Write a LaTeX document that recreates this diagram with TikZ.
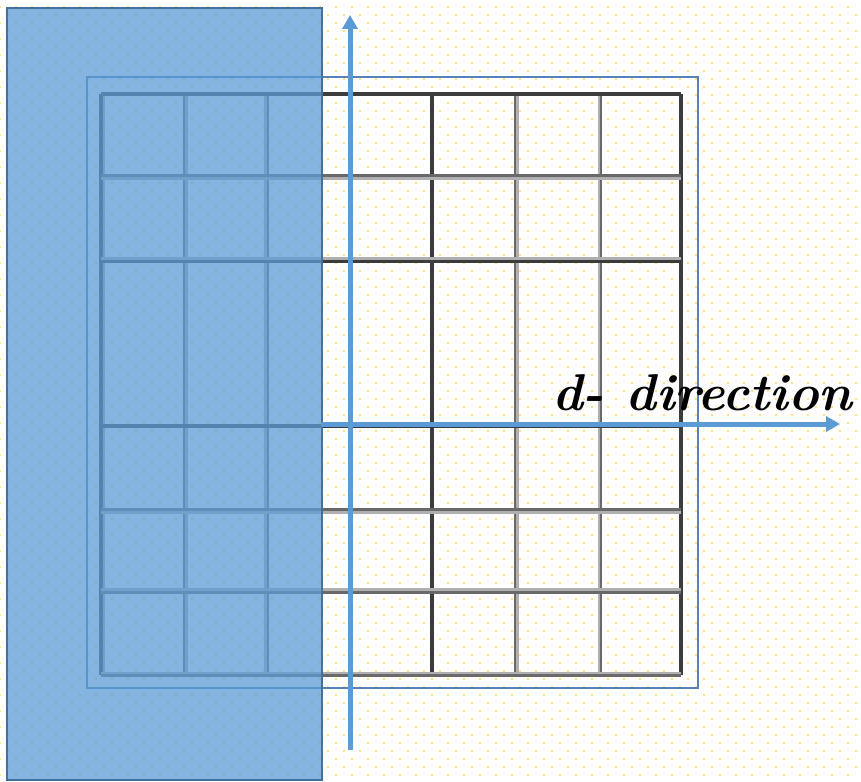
\documentclass[tikz,border=0pt]{standalone}
\usepackage{graphicx}
\usetikzlibrary{arrows.meta}
\definecolor{dotc}{RGB}{250,226,140}
\definecolor{rectfill}{RGB}{91,155,213}
\definecolor{rectedge}{RGB}{65,113,156}
\definecolor{framec}{RGB}{84,130,185}
\definecolor{arrowc}{RGB}{91,155,213}
\definecolor{gdarkc}{RGB}{60,60,60}
\definecolor{gmidc}{RGB}{105,105,105}
\definecolor{glightc}{RGB}{175,175,175}
\tikzset{
  gdark/.style={draw=gdarkc, line width=3.2pt},
  gmid/.style={draw=gmidc, line width=2.8pt},
  glight/.style={draw=glightc, line width=4pt},
  axis/.style={draw=arrowc, line width=5pt, -{Triangle[width=15pt,length=14pt]}},
}
\begin{document}
\begin{tikzpicture}[x=1pt,y=-1pt]
\useasboundingbox (0,0) rectangle (861,781);
\fill[white] (0,0) rectangle (861,781);
% dotted background
\foreach \j in {0,...,97}{
  \pgfmathsetmacro{\yy}{7+8*\j}
  \pgfmathsetmacro{\off}{mod(\j,2)*8}
  \foreach \i in {0,...,54}{
    \fill[dotc] ({\off+16*\i-1.1},{\yy-1.1}) rectangle ++(2.2,2.2);
  }
}
% grid: vertical lines
\draw[glight] (103,94) -- (103,675);
\draw[gdark]  (101,94) -- (101,675);
\draw[glight] (186,94) -- (186,675);
\draw[gmid]   (184,94) -- (184,675);
\draw[glight] (266,94) -- (266,675);
\draw[gmid]   (268,94) -- (268,675);
\draw[gdark]  (350,94) -- (350,675);
\draw[gdark]  (432,94) -- (432,675);
\draw[glight] (517,94) -- (517,675);
\draw[gmid]   (515,94) -- (515,675);
\draw[glight] (600,94) -- (600,675);
\draw[gmid]   (601,94) -- (601,675);
\draw[gdark]  (681,94) -- (681,675);
% grid: horizontal lines
\draw[gdark]  (101,94) -- (681,94);
\draw[glight] (101,178) -- (681,178);
\draw[gmid]   (101,175.5) -- (681,175.5);
\draw[glight] (101,258.5) -- (681,258.5);
\draw[gdark]  (101,261.5) -- (681,261.5);
\draw[gdark]  (101,426) -- (681,426);
\draw[glight] (101,511.5) -- (681,511.5);
\draw[gmid]   (101,509.5) -- (681,509.5);
\draw[glight] (101,590) -- (681,590);
\draw[gmid]   (101,592.5) -- (681,592.5);
\draw[glight] (101,674) -- (681,674);
\draw[gmid]   (101,675.5) -- (681,675.5);
% outer thin frame
\draw[framec, line width=1.8pt] (87,77) rectangle (698,688);
% translucent blue panel
\node[draw=rectedge, line width=2.2pt, fill=rectfill, fill opacity=0.75,
      minimum width=315pt, minimum height=772pt, inner sep=0pt, anchor=north west]
      (panel) at (6,7) {};
% axes
\coordinate (vbot) at (350,750);
\coordinate (vtop) at (350,15);
\coordinate (hstart) at (321,424);
\coordinate (hend) at (840,424);
\draw[axis] (vbot) -- (vtop);
\draw[axis] (hstart) -- (hend);
% label
\node[anchor=base west, inner sep=0pt] (lbl) at (552,410)
  {\resizebox{300pt}{!}{\bfseries\itshape d- direction}};
\end{tikzpicture}
\end{document}
